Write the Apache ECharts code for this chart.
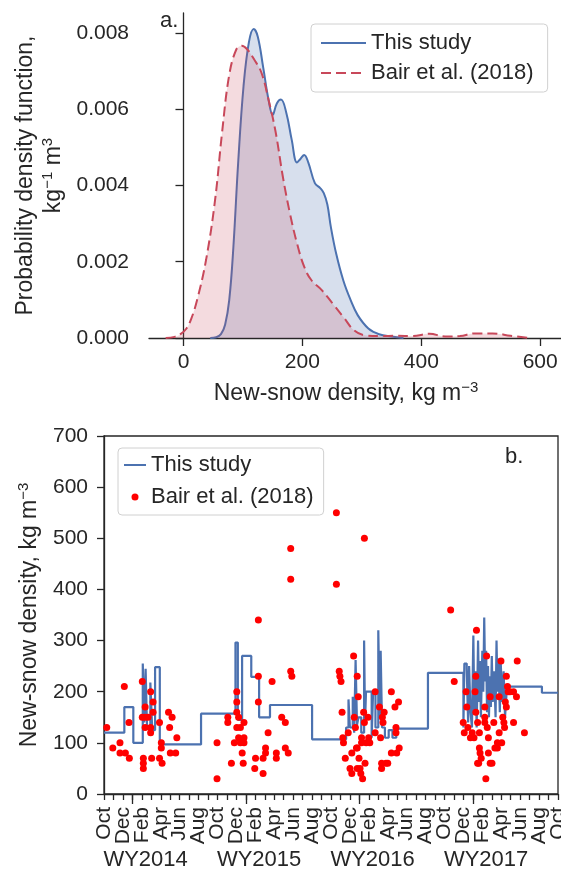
<!DOCTYPE html>
<html><head><meta charset="utf-8">
<script src="https://cdn.jsdelivr.net/npm/echarts@6/dist/echarts.min.js"></script>
<style>html,body{margin:0;padding:0;background:#fff}#c{width:561px;height:876px}</style>
</head><body><div id="c"></div>
<script>
// ---------- Panel a: probability density functions ----------
const pdfTicksX = [0, 200, 400, 600];
const pdfTicksY = [0, 0.002, 0.004, 0.006, 0.008];
// This study KDE: [density kg m-3, pdf]
const thisStudyPdf = [[45,0],[55,0.00002],[63,0.0001],[70,0.00035],[77,0.0010],[84,0.0024],[92,0.0046],[101,0.0066],[110,0.00775],[118,0.0081],[125,0.0079],[134,0.0071],[143,0.00625],[150,0.00585],[157,0.00615],[164,0.00625],[173,0.0059],[182,0.0052],[191,0.0046],[197,0.0047],[203,0.0048],[210,0.0046],[221,0.00406],[230,0.00393],[236,0.0038],[242,0.0035],[248,0.0029],[257,0.0022],[269,0.0015],[281,0.0010],[293,0.0006],[311,0.00025],[329,0.0001],[350,0.00004],[370,0]];
// Bair et al. (2018) KDE
const bairPdf = [[-30,0],[-15,0.00003],[-5,0.0001],[5,0.00025],[13,0.0005],[23,0.0010],[38,0.00205],[53,0.0036],[65,0.0054],[77,0.0069],[89,0.00757],[98,0.00766],[107,0.00757],[119,0.0073],[131,0.00696],[143,0.00625],[155,0.0054],[167,0.00424],[179,0.00327],[191,0.00248],[203,0.00187],[215,0.00152],[233,0.00125],[251,0.0009],[269,0.00055],[287,0.0002],[305,0.00007],[330,0.00005],[360,0.00006],[385,0.00005],[414,0.00011],[440,0.00004],[465,0.00005],[490,0.00012],[520,0.00012],[550,0.00006],[580,0]];

// ---------- Panel b: time series (x = months since 1 Oct 2013) ----------
const monthNames = ['Oct','Dec','Feb','Apr','Jun','Aug'];
const wyLabels = ['WY2014','WY2015','WY2016','WY2017'];
const janMonths = [3, 15, 27, 39];
const wyLabelMonths = [4.4, 16.4, 28.4, 40.4];
// This study step series: value holds from month until next month
const stepMonths = [0,2.15,3.1,4.1,4.25,4.4,4.55,4.9,5.1,5.4,5.9,6.2,10.26,13.9,14.15,14.6,15.57,16.4,17.55,22.0,25.6,25.85,26.0,26.3,26.45,26.6,26.75,26.9,27.2,27.5,27.6,27.7,28.3,28.45,28.7,29.0,29.15,29.25,29.4,29.7,30.1,30.5,30.9,34.25,38.0,38.1,38.35,38.5,38.6,38.75,38.9,39.05,39.15,39.3,39.4,39.55,39.65,39.75,39.85,40.0,40.1,40.2,40.3,40.4,40.5,40.6,40.7,40.8,40.9,41.0,41.1,41.25,41.4,41.5,41.6,41.7,41.85,41.95,42.1,42.25,42.4,42.6,46.3,48];
const stepValues = [120,170,100,255,140,245,130,218,125,248,103,97,157,296,145,270,229,150,174,107,130,185,130,190,120,262,135,150,120,300,140,200,110,200,130,320,150,280,130,110,125,110,128,237,130,255,245,140,250,160,130,310,160,240,130,300,180,260,150,280,200,345,220,280,160,250,150,230,170,270,180,240,150,300,200,265,160,255,180,240,150,210,198,198];
// Bair et al. (2018) observations: [month, density]
const bairPoints = [
 [0.29,130],[0.93,90],[1.69,100],[1.69,80],[2.26,80],[2.15,210],[2.64,140],[2.68,70],
 [4.05,220],[4.05,150],[4.35,150],[4.16,70],[4.16,60],[4.16,50],[4.35,170],[4.35,130],[4.66,150],[4.93,200],[4.93,130],[4.93,120],[5.04,70],[5.19,180],[5.19,160],[5.87,140],[5.87,70],[6.06,100],[6.06,90],[6.14,60],[6.82,160],[6.94,130],[7.2,150],[7.01,80],[7.58,80],[7.7,110],
 [11.95,30],[11.95,100],[13.09,150],[13.09,140],[13.47,60],[13.78,100],[14.04,200],[14.04,180],[14.04,160],[14.04,130],[14.23,150],[14.23,110],[14.42,130],[14.42,100],[14.61,80],[14.72,60],[14.8,110],[14.8,100],[14.8,140],[15.94,50],[16.02,70],[16.32,340],[16.32,230],[16.32,180],[16.82,70],[16.82,40],[17.08,90],[17.08,80],[17.35,120],[17.77,220],[18.22,80],[18.22,70],[18.79,150],[19.17,140],[19.17,90],[19.48,80],[19.74,480],[19.74,420],[19.74,240],[19.86,230],
 [24.57,550],[24.57,410],[24.87,240],[24.94,230],[25.06,220],[25.17,160],[25.25,110],[25.32,100],[25.51,70],[25.82,120],[26.01,50],[26.2,40],[26.2,80],[26.39,270],[26.46,150],[26.58,130],[26.69,90],[26.77,90],[26.77,50],[26.77,230],[26.88,190],[26.96,70],[27.07,50],[27.15,40],[27.23,110],[27.23,100],[27.34,30],[27.45,160],[27.53,500],[27.53,140],[27.6,60],[27.72,100],[27.91,150],[27.98,110],[28.1,100],[28.67,200],[28.67,120],[29.12,170],[29.24,110],[29.35,50],[29.35,60],[29.43,150],[29.5,140],[29.62,160],[29.81,60],[30.0,60],[30.38,200],[30.38,80],[30.76,170],[30.87,130],[30.87,120],[30.95,80],[31.14,180],[31.21,90],
 [36.65,360],[37.03,220],[37.98,140],[38.09,120],[38.28,200],[38.36,170],[38.47,130],[38.74,110],[38.93,120],[39.12,110],[39.23,200],[39.31,230],[39.31,160],[39.38,320],[39.5,140],[39.5,60],[39.61,60],[39.69,120],[39.69,90],[39.76,80],[39.88,70],[40.26,150],[40.26,140],[40.26,170],[40.37,30],[40.45,270],[40.52,130],[40.64,110],[40.64,80],[40.83,190],[40.83,60],[41.02,60],[41.21,140],[41.33,90],[41.59,100],[41.59,90],[41.78,120],[41.78,190],[41.97,260],[42.05,100],[42.16,150],[42.28,140],[42.35,130],[42.43,180],[42.54,230],[42.54,170],[42.66,210],[42.73,200],[42.92,200],[43.3,200],[43.3,140],[43.69,260],[43.61,190],[44.45,120]
];

const FONT = 'Liberation Sans, Arial, Helvetica, sans-serif';
const INK = '#262626';
const axisLineStyle = {color: INK, width: 1.3};
const stepData = stepMonths.map((m, i) => [m, stepValues[i]]);
const nameRich = {
  a: {fontSize: 23, color: INK, fontFamily: FONT, lineHeight: 28},
  s: {fontSize: 15, color: INK, fontFamily: FONT, verticalAlign: 'top'}
};
const hideSymbol = {opacity: 0};

const chart = echarts.init(document.getElementById('c'), null, {renderer: 'canvas'});
chart.setOption({
  animation: false,
  textStyle: {fontFamily: FONT, color: INK},
  grid: [
    {left: 149, top: 13, right: 0, height: 325, outerBoundsMode: 'none', containLabel: false},
    {left: 104, top: 436, right: 3, height: 358, outerBoundsMode: 'none', containLabel: false,
     show: true, borderColor: INK, borderWidth: 1.3, backgroundColor: 'transparent'}
  ],
  xAxis: [
    {gridIndex: 0, type: 'value', min: -58, max: 635,
     axisLine: {lineStyle: axisLineStyle},
     axisTick: {length: 8, customValues: pdfTicksX, lineStyle: axisLineStyle},
     axisLabel: {customValues: pdfTicksX, fontSize: 21, color: INK, margin: 14, fontFamily: FONT},
     splitLine: {show: false},
     name: '{a|New-snow density, kg m}{s|−3}', nameLocation: 'middle', nameGap: 42,
     nameTextStyle: {rich: nameRich, padding: [0, 18, 0, 0]}
    },
    {gridIndex: 1, type: 'value', min: 0, max: 48, interval: 1,
     axisLine: {lineStyle: axisLineStyle},
     axisTick: {length: 6, lineStyle: axisLineStyle},
     axisLabel: {rotate: 90, fontSize: 21, color: INK, margin: 13, fontFamily: FONT,
       formatter: v => { const r = Math.round(v); return r % 2 === 0 ? monthNames[(r / 2) % 6] : ''; }},
     splitLine: {show: false}
    },
    {gridIndex: 1, type: 'value', min: 0, max: 48, position: 'bottom',
     axisLine: {show: false},
     axisTick: {length: 10, customValues: janMonths, lineStyle: axisLineStyle},
     axisLabel: {customValues: wyLabelMonths, fontSize: 22, color: INK, margin: 55, fontFamily: FONT,
       formatter: v => wyLabels[Math.round((v - 4.4) / 12)]},
     splitLine: {show: false}
    }
  ],
  yAxis: [
    {gridIndex: 0, type: 'value', min: 0, max: 0.00852,
     axisLine: {show: true, lineStyle: axisLineStyle},
     axisTick: {show: true, length: 8, customValues: pdfTicksY, lineStyle: axisLineStyle},
     axisLabel: {customValues: pdfTicksY, fontSize: 21, color: INK, margin: 20, fontFamily: FONT, formatter: v => v.toFixed(3)},
     splitLine: {show: false},
     name: '{a|Probability density function,}\n{a|kg}{s|−1}{a| m}{s|3}', nameLocation: 'middle', nameRotate: 90, nameGap: 78,
     nameTextStyle: {rich: nameRich}
    },
    {gridIndex: 1, type: 'value', min: 0, max: 700, interval: 100,
     axisLine: {show: true, lineStyle: axisLineStyle},
     axisTick: {show: true, length: 7, lineStyle: axisLineStyle},
     axisLabel: {fontSize: 21, color: INK, margin: 16, fontFamily: FONT},
     splitLine: {show: false},
     name: '{a|New-snow density, kg m}{s|−3}', nameLocation: 'middle', nameRotate: 90, nameGap: 60,
     nameTextStyle: {rich: nameRich}
    }
  ],
  legend: [
    {orient: 'vertical', left: 311, top: 24, itemWidth: 45, itemHeight: 14, itemGap: 8, itemTextGap: 16,
     padding: [8, 14, 8, 9], borderColor: '#d0d0d0', borderWidth: 1, borderRadius: 4, backgroundColor: 'rgba(255,255,255,0.8)',
     selectedMode: false, textStyle: {fontSize: 22, color: INK, fontFamily: FONT},
     data: [{name: 'This study', itemStyle: hideSymbol}, {name: 'Bair et al. (2018)', itemStyle: hideSymbol}]},
    {orient: 'vertical', left: 118, top: 448, itemWidth: 22, itemHeight: 7, itemGap: 10, itemTextGap: 16,
     padding: [6, 10, 7, 5], borderColor: '#d0d0d0', borderWidth: 1, borderRadius: 4, backgroundColor: 'rgba(255,255,255,0.8)',
     selectedMode: false, textStyle: {fontSize: 22, color: INK, fontFamily: FONT},
     formatter: n => n.trim(),
     data: [{name: 'This study ', itemStyle: hideSymbol}, {name: 'Bair et al. (2018) ', icon: 'circle'}]}
  ],
  graphic: [
    {type: 'text', left: 160, top: 10, style: {text: 'a.', fontSize: 22, fill: INK, fontFamily: FONT}},
    {type: 'text', left: 505, top: 446, style: {text: 'b.', fontSize: 22, fill: INK, fontFamily: FONT}}
  ],
  series: [
    {name: 'This study', type: 'line', xAxisIndex: 0, yAxisIndex: 0, data: thisStudyPdf, smooth: 0.4, symbol: 'none',
     lineStyle: {color: '#4c72b0', width: 2}, itemStyle: {color: '#4c72b0'}, areaStyle: {color: 'rgba(76,114,176,0.32)'}, z: 2},
    {name: 'Bair et al. (2018)', type: 'line', xAxisIndex: 0, yAxisIndex: 0, data: bairPdf, smooth: 0.4, symbol: 'none',
     lineStyle: {color: '#c8485a', width: 2, type: [10, 5]}, itemStyle: {color: '#c8485a'}, areaStyle: {color: 'rgba(200,72,90,0.28)'}, z: 3},
    {name: 'This study ', type: 'line', xAxisIndex: 1, yAxisIndex: 1, data: stepData, step: 'end', symbol: 'none',
     lineStyle: {color: '#4c72b0', width: 2.2}, itemStyle: {color: '#4c72b0'}, z: 2},
    {name: 'Bair et al. (2018) ', type: 'scatter', xAxisIndex: 1, yAxisIndex: 1, data: bairPoints, symbol: 'circle', symbolSize: 7,
     itemStyle: {color: '#ff0000', opacity: 1}, z: 3}
  ]
});
</script></body></html>
